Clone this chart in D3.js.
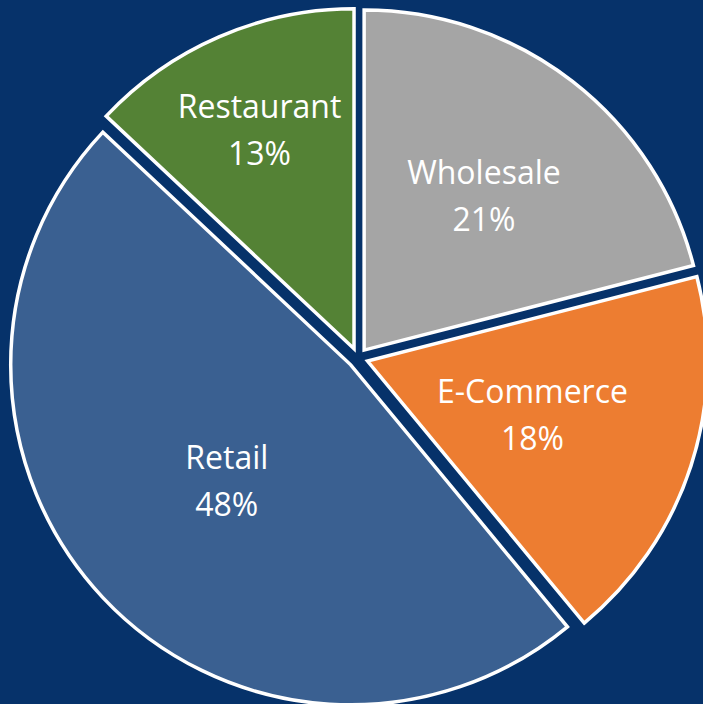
<!DOCTYPE html>
<meta charset="utf-8">

<!-- Load d3.js -->
<script src="https://d3js.org/d3.v7.min.js"></script>

<style>
  body { margin: 0; background: #06326a; }
  #my_dataviz text { font-family: "Open Sans", "Noto Sans", sans-serif; }
</style>

<body>
  <div id="my_dataviz"></div>

  <script type="text/javascript">
    // chart data
    var categories = ["Wholesale", "E-Commerce", "Retail", "Restaurant"];
    var shares = [21, 18, 48, 13];
    var sliceColors = ["#a5a5a5", "#ed7d31", "#3a6091", "#548235"];

    // layout
    var width = 703,
      height = 704,
      cx = 358,
      cy = 358,
      radius = 340,
      explode = 10;

    // label distance from the slice apex (fraction of radius), like excel "best fit"
    var labelFrac = {
      "Wholesale": 0.575,
      "E-Commerce": 0.51,
      "Retail": 0.50,
      "Restaurant": 0.70
    };

    var data = categories.map(function(c, i) {
      return { name: c, value: shares[i], color: sliceColors[i] };
    });

    var svg = d3.select("#my_dataviz")
      .append("svg")
      .attr("width", width)
      .attr("height", height);

    svg.append("rect")
      .attr("width", width)
      .attr("height", height)
      .attr("fill", "#06326a");

    var g = svg.append("g")
      .attr("transform", "translate(" + cx + "," + cy + ")");

    var pie = d3.pie()
      .sort(null)
      .value(function(d) { return d.value; });

    var arc = d3.arc()
      .innerRadius(0)
      .outerRadius(radius);

    var arcs = pie(data);

    function midAngle(d) {
      return (d.startAngle + d.endAngle) / 2;
    }

    var slices = g.selectAll(".slice")
      .data(arcs)
      .enter()
      .append("g")
      .attr("class", "slice")
      .attr("transform", function(d) {
        var a = midAngle(d);
        return "translate(" + (Math.sin(a) * explode) + "," + (-Math.cos(a) * explode) + ")";
      });

    slices.append("path")
      .attr("d", arc)
      .attr("fill", function(d) { return d.data.color; })
      .attr("stroke", "#ffffff")
      .attr("stroke-width", 3.5)
      .attr("stroke-linejoin", "miter");

    // labels: name + percent
    var labels = slices.append("text")
      .attr("text-anchor", "middle")
      .attr("fill", "#ffffff")
      .style("font-size", "32px")
      .attr("transform", function(d) {
        var a = midAngle(d);
        var r = labelFrac[d.data.name] * radius;
        return "translate(" + (Math.sin(a) * r) + "," + (-Math.cos(a) * r) + ")";
      });

    labels.append("tspan")
      .attr("x", 0)
      .attr("y", -12)
      .text(function(d) { return d.data.name; });

    labels.append("tspan")
      .attr("x", 0)
      .attr("y", 35)
      .text(function(d) { return d.data.value + "%"; });
  </script>
</body>

</html>
